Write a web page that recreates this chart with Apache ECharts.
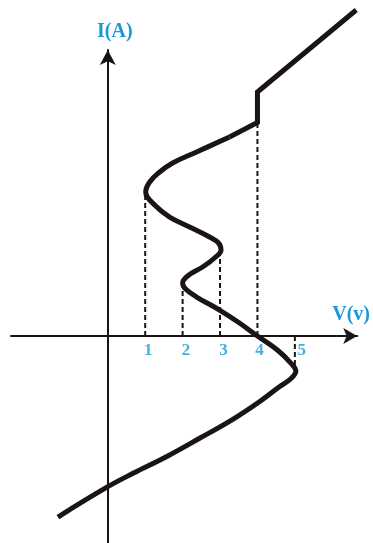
<!DOCTYPE html>
<html>
<head>
<meta charset="utf-8">
<script src="https://cdn.jsdelivr.net/npm/echarts@6/dist/echarts.min.js"></script>
<style>
html,body{margin:0;padding:0;background:#fff;}
#chart{width:373px;height:543px;}
</style>
</head>
<body>
<div id="chart"></div>
<script>
// Curved I-V characteristic (smooth part)
const curveV = [-1.333, 0.0, 0.675, 1.565, 2.453, 3.341, 4.053, 4.587, 4.899, 5.027, 4.899, 4.533, 4.0, 3.52, 2.987, 2.373, 2.08, 2.0, 2.133, 2.533, 2.853, 3.027, 2.96, 2.72, 2.187, 1.653, 1.253, 1.013, 1.12, 1.387, 1.733, 2.373, 3.253];
const curveI = [-4.827, -4.019, -3.661, -3.219, -2.728, -2.221, -1.752, -1.352, -1.133, -0.933, -0.728, -0.373, 0.0, 0.347, 0.693, 1.04, 1.253, 1.413, 1.6, 1.84, 2.08, 2.293, 2.48, 2.64, 2.907, 3.173, 3.493, 3.84, 4.107, 4.373, 4.613, 4.907, 5.307];
// Straight part with the vertical jump
const jumpV = [3.253, 4.0, 4.0, 6.64];
const jumpI = [5.307, 5.693, 6.507, 8.693];
// Dashed drop lines
const dropV = [1, 2, 3, 4, 5];
const dropI = [3.84, 1.413, 2.293, 5.693, -0.933];
// Tick labels
const tickValues = [1, 2, 3, 4, 5];
const tickLabels = ['1', '2', '3', '4', '5'];
const tickShift = [3, 3.5, 3.5, 2, 7];

const ink = '#1a1512';
const blue = '#1b98d5';
const serif = '"Liberation Serif", "DejaVu Serif", serif';

const series = [];
series.push({
  type: 'line', data: curveV.map((v, i) => [v, curveI[i]]),
  smooth: 0.4, symbol: 'none', clip: false, z: 5,
  lineStyle: {color: ink, width: 5, cap: 'butt', join: 'round'}
});
series.push({
  type: 'line', data: jumpV.map((v, i) => [v, jumpI[i]]),
  smooth: false, symbol: 'none', clip: false, z: 5,
  lineStyle: {color: ink, width: 5, cap: 'butt', join: 'miter'}
});
dropV.forEach((v, i) => {
  series.push({
    type: 'line', data: [[v, 0], [v, dropI[i]]],
    symbol: 'none', clip: false, z: 3,
    lineStyle: {color: ink, width: 2, type: [5, 3]}
  });
});
series.push({
  type: 'scatter', symbolSize: 1, clip: false, z: 6, silent: true,
  itemStyle: {color: 'rgba(0,0,0,0)'},
  label: {
    show: true, position: 'inside',
    formatter: p => tickLabels[p.dataIndex],
    color: blue, fontSize: 17, fontWeight: 'bold', fontFamily: serif
  },
  data: tickValues.map((v, i) => ({
    value: [v, 0],
    label: {offset: [tickShift[i], 14.5]}
  }))
});

const chart = echarts.init(document.getElementById('chart'), null, {renderer: 'canvas'});
chart.setOption({
  animation: false,
  backgroundColor: '#ffffff',
  grid: {left: 11, right: 15, top: 50, bottom: 0, containLabel: false},
  xAxis: {
    type: 'value', min: -2.587, max: 6.667,
    name: 'V(v)', nameLocation: 'end', nameGap: -25,
    nameTextStyle: {color: blue, fontSize: 20, fontWeight: 'bold', fontFamily: serif, align: 'left', verticalAlign: 'bottom', padding: [0, 0, 11, 0]},
    axisLine: {show: true, onZero: true, symbol: ['none', 'arrow'], symbolSize: [12, 14], lineStyle: {color: ink, width: 2}},
    axisTick: {show: false}, axisLabel: {show: false}, splitLine: {show: false}
  },
  yAxis: {
    type: 'value', min: -5.52, max: 7.627,
    name: 'I(A)', nameLocation: 'end', nameGap: 8,
    nameTextStyle: {color: blue, fontSize: 20, fontWeight: 'bold', fontFamily: serif, align: 'center', verticalAlign: 'bottom', padding: [0, 0, 0, 14]},
    axisLine: {show: true, onZero: true, symbol: ['none', 'arrow'], symbolSize: [12, 15], lineStyle: {color: ink, width: 2}},
    axisTick: {show: false}, axisLabel: {show: false}, splitLine: {show: false}
  },
  series: series
});
</script>
</body>
</html>
